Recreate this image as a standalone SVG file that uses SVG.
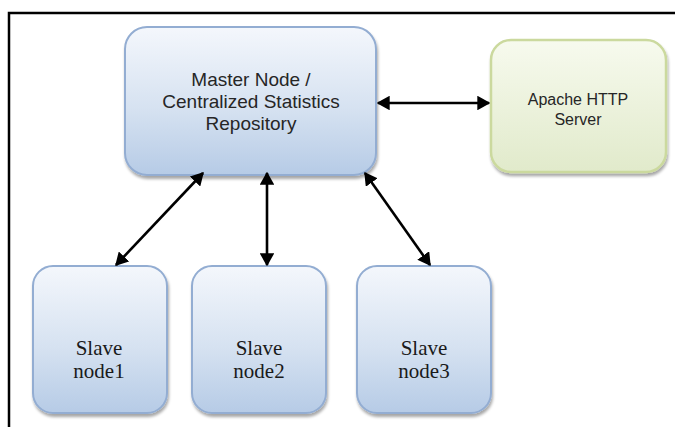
<svg xmlns="http://www.w3.org/2000/svg" width="675" height="427" viewBox="0 0 675 427">
  <defs>
    <linearGradient id="blueFill" x1="0" y1="0" x2="0" y2="1">
      <stop offset="0" stop-color="#f4f7fc"/>
      <stop offset="0.55" stop-color="#d6e2f1"/>
      <stop offset="1" stop-color="#b6cbe6"/>
    </linearGradient>
    <linearGradient id="greenFill" x1="0" y1="0" x2="0" y2="1">
      <stop offset="0" stop-color="#f7faee"/>
      <stop offset="1" stop-color="#e1eacb"/>
    </linearGradient>
    <filter id="shadow" x="-10%" y="-10%" width="120%" height="125%">
      <feGaussianBlur in="SourceAlpha" stdDeviation="1.5"/>
      <feOffset dx="1" dy="3" result="b"/>
      <feComponentTransfer><feFuncA type="linear" slope="0.35"/></feComponentTransfer>
      <feMerge><feMergeNode/><feMergeNode in="SourceGraphic"/></feMerge>
    </filter>
    <marker id="head" viewBox="0 0 10 10" refX="9" refY="5" markerWidth="5" markerHeight="5.6" orient="auto-start-reverse" markerUnits="strokeWidth" preserveAspectRatio="none">
      <path d="M0,0 L10,5 L0,10 z" fill="#000"/>
    </marker>
  </defs>
  <style>
    .blue { fill: url(#blueFill); stroke: #93add2; stroke-width: 2; filter: url(#shadow); }
    .green { fill: url(#greenFill); stroke: #cbd99e; stroke-width: 2.5; filter: url(#shadow); }
    .sans { font-family: "Liberation Sans", Arial, sans-serif; fill: #262626; text-anchor: middle; }
    .serif { font-family: "Liberation Serif", "Times New Roman", serif; fill: #1a1a1a; text-anchor: middle; font-size: 21px; }
    .link { stroke: #000; stroke-width: 2.6; fill: none; marker-start: url(#head); marker-end: url(#head); }
  </style>

  <rect width="675" height="427" fill="#fff"/>
  <!-- frame: top and left rules -->
  <path d="M9,427 V13 H675" fill="none" stroke="#000" stroke-width="2.5"/>

  <g id="master">
    <rect class="blue" x="125" y="27" width="251" height="148" rx="22"/>
    <text class="sans" font-size="19" x="251" y="86">Master Node /</text>
    <text class="sans" font-size="19" x="251" y="108">Centralized Statistics</text>
    <text class="sans" font-size="19" x="251" y="130">Repository</text>
  </g>

  <g id="apache">
    <rect class="green" x="491" y="40" width="175" height="132" rx="20"/>
    <text class="sans" font-size="16" x="578" y="105">Apache HTTP</text>
    <text class="sans" font-size="16" x="578" y="125">Server</text>
  </g>

  <g id="slave1">
    <rect class="blue" x="33" y="266" width="134" height="147" rx="20"/>
    <text class="serif" x="99" y="355">Slave</text>
    <text class="serif" x="99" y="378">node1</text>
  </g>

  <g id="slave2">
    <rect class="blue" x="192" y="266" width="134" height="147" rx="20"/>
    <text class="serif" x="259" y="355">Slave</text>
    <text class="serif" x="259" y="378">node2</text>
  </g>

  <g id="slave3">
    <rect class="blue" x="357" y="266" width="134" height="147" rx="20"/>
    <text class="serif" x="424" y="355">Slave</text>
    <text class="serif" x="424" y="378">node3</text>
  </g>

  <g id="connectors">
    <line class="link" x1="378" y1="103" x2="489" y2="103"/>
    <line class="link" x1="203" y1="173" x2="116" y2="265"/>
    <line class="link" x1="267" y1="173" x2="267" y2="265"/>
    <line class="link" x1="365" y1="173" x2="430" y2="265"/>
  </g>
</svg>
